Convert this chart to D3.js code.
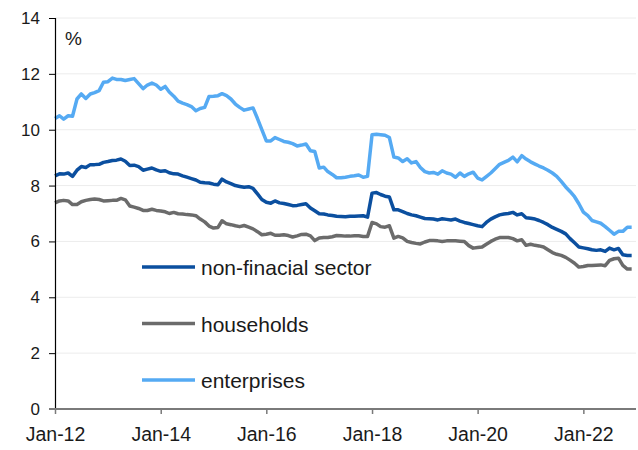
<!DOCTYPE html>
<html>
<head>
<meta charset="utf-8">
<script src="https://cdn.jsdelivr.net/npm/d3@7"></script>
<style>
  body { margin: 0; background: #fff; }
  .y-label { font-family: "Liberation Sans", Arial, sans-serif; font-size: 17px; fill: #1a1a1a; }
  .x-label { font-family: "Liberation Sans", Arial, sans-serif; font-size: 19.5px; fill: #1a1a1a; }
  .legend-text { font-family: "Liberation Sans", Arial, sans-serif; font-size: 21px; fill: #1a1a1a; }
  .unit { font-family: "Liberation Sans", Arial, sans-serif; font-size: 19px; fill: #1a1a1a; }
</style>
</head>
<body>
<div id="chart"></div>
<script>
// monthly, Jan-12 .. Dec-22
const firstMonth = "2012-01";

const nonFinancial = [
  8.35, 8.42, 8.41, 8.45, 8.33, 8.55, 8.68, 8.65, 8.75, 8.75, 8.76, 8.83,
  8.86, 8.90, 8.91, 8.95, 8.87, 8.72, 8.73, 8.68, 8.55, 8.59, 8.63, 8.56,
  8.51, 8.53, 8.46, 8.42, 8.41, 8.35, 8.30, 8.25, 8.20, 8.12, 8.10, 8.09,
  8.05, 8.03, 8.23, 8.13, 8.07, 8.00, 7.97, 7.94, 7.96, 7.90, 7.70, 7.50,
  7.40, 7.37, 7.45, 7.38, 7.36, 7.32, 7.28, 7.29, 7.32, 7.35, 7.20, 7.10,
  6.99, 6.98, 6.95, 6.93, 6.90, 6.89, 6.88, 6.90, 6.90, 6.91, 6.92, 6.87,
  7.73, 7.75, 7.68, 7.62, 7.59, 7.13, 7.13, 7.07, 7.00, 6.95, 6.92, 6.87,
  6.82, 6.81, 6.80, 6.77, 6.81, 6.79, 6.77, 6.80, 6.73, 6.68, 6.64, 6.60,
  6.56, 6.53, 6.68, 6.80, 6.88, 6.95, 6.98, 7.00, 7.04, 6.95, 6.99, 6.85,
  6.83, 6.80, 6.75, 6.68, 6.60, 6.50, 6.43, 6.36, 6.27, 6.10, 5.95, 5.80,
  5.77, 5.74, 5.70, 5.68, 5.70, 5.64, 5.76, 5.70, 5.75, 5.52, 5.50, 5.50
];

const households = [
  7.38, 7.45, 7.47, 7.45, 7.32, 7.32, 7.42, 7.47, 7.50, 7.52, 7.50, 7.45,
  7.46, 7.47, 7.47, 7.54, 7.49, 7.27, 7.23, 7.18, 7.11, 7.11, 7.15, 7.11,
  7.09, 7.06, 7.00, 7.04, 6.99, 6.98, 6.96, 6.95, 6.92, 6.80, 6.70, 6.55,
  6.48, 6.50, 6.74, 6.63, 6.60, 6.56, 6.53, 6.57, 6.51, 6.45, 6.35, 6.24,
  6.26, 6.29, 6.22, 6.22, 6.24, 6.21, 6.16, 6.20, 6.25, 6.26, 6.20, 6.03,
  6.12, 6.14, 6.14, 6.17, 6.21, 6.20, 6.19, 6.19, 6.20, 6.20, 6.18, 6.18,
  6.68, 6.63, 6.53, 6.51, 6.56, 6.12, 6.18, 6.13, 6.00, 5.96, 5.93, 5.91,
  5.98, 6.03, 6.03, 6.02, 6.00, 6.02, 6.02, 6.02, 6.01, 6.00, 5.85, 5.76,
  5.78, 5.80, 5.90, 6.00, 6.08, 6.14, 6.14, 6.14, 6.10, 6.02, 6.06, 5.86,
  5.90, 5.86, 5.84, 5.80, 5.70, 5.60, 5.54, 5.50, 5.43, 5.33, 5.22, 5.08,
  5.10, 5.14, 5.14, 5.15, 5.16, 5.13, 5.32, 5.38, 5.40, 5.14, 5.01, 5.01
];

const enterprises = [
  10.40, 10.50, 10.38, 10.50, 10.48, 11.10, 11.28, 11.12, 11.28, 11.33, 11.40, 11.70,
  11.72, 11.85, 11.80, 11.80, 11.76, 11.80, 11.83, 11.65, 11.47, 11.60, 11.67, 11.60,
  11.45, 11.55, 11.35, 11.20, 11.02, 10.95, 10.90, 10.83, 10.68, 10.76, 10.80, 11.19,
  11.20, 11.22, 11.29, 11.22, 11.10, 10.92, 10.80, 10.70, 10.74, 10.78, 10.40, 10.00,
  9.60, 9.60, 9.72, 9.65, 9.58, 9.55, 9.50, 9.42, 9.45, 9.49, 9.25, 9.22,
  8.63, 8.66, 8.50, 8.40, 8.28, 8.28, 8.30, 8.33, 8.35, 8.38, 8.30, 8.33,
  9.82, 9.84, 9.82, 9.80, 9.72, 9.02, 8.99, 8.86, 8.96, 8.81, 8.86, 8.65,
  8.50, 8.45, 8.47, 8.41, 8.53, 8.45, 8.41, 8.30, 8.45, 8.33, 8.42, 8.48,
  8.27, 8.20, 8.32, 8.45, 8.60, 8.76, 8.83, 8.90, 9.02, 8.85, 9.07, 8.95,
  8.85, 8.77, 8.70, 8.63, 8.55, 8.45, 8.33, 8.15, 7.95, 7.79, 7.60, 7.35,
  7.05, 6.92, 6.75, 6.70, 6.65, 6.53, 6.40, 6.26, 6.36, 6.36, 6.51, 6.51
];

const seriesNames = ["non-finacial sector", "households", "enterprises"];
const seriesColors = ["#0b4f9f", "#6b6b6b", "#55aaf3"];
const yTickValues = [0, 2, 4, 6, 8, 10, 12, 14];
const xTickMonths = ["2012-01", "2014-01", "2016-01", "2018-01", "2020-01", "2022-01"];
const xTickLabels = ["Jan-12", "Jan-14", "Jan-16", "Jan-18", "Jan-20", "Jan-22"];
const unitLabel = "%";

class InterestRateChart {
  constructor(el) {
    this.el = el;
    this._setup();
    this._scaffold();
    this._render();
  }

  _setup() {
    this.width = 638;
    this.height = 450;
    this.margin = { top: 18, right: 2, bottom: 41, left: 55 };
    this.lineWidth = 3.5;

    const parse = d3.timeParse("%Y-%m");
    this.months = d3.range(enterprises.length).map((i) =>
      d3.timeMonth.offset(parse(firstMonth), i)
    );
    this.xTicks = xTickMonths.map(parse);

    this.x = d3
      .scaleTime()
      .domain([parse(firstMonth), new Date(2022, 11, 31)])
      .range([this.margin.left, this.width - this.margin.right]);

    this.y = d3
      .scaleLinear()
      .domain([0, 14])
      .range([this.height - this.margin.bottom, this.margin.top]);

    this.series = [nonFinancial, households, enterprises].map((values, i) => ({
      name: seriesNames[i],
      color: seriesColors[i],
      values: values.map((v, j) => ({ date: this.months[j], value: v })),
    }));

    this.line = d3
      .line()
      .x((d) => this.x(d.date))
      .y((d) => this.y(d.value));
  }

  _scaffold() {
    d3.select(this.el).selectAll("*").remove();

    this.svg = d3
      .select(this.el)
      .append("svg")
      .attr("width", this.width)
      .attr("height", this.height);

    this.gridG = this.svg.append("g").attr("class", "grid");
    this.linesG = this.svg.append("g").attr("class", "lines");
    this.axisG = this.svg.append("g").attr("class", "axes");
    this.legendG = this.svg.append("g").attr("class", "legend");
  }

  _render() {
    const { x, y, margin, width, height } = this;
    const x0 = margin.left;
    const y0 = height - margin.bottom;

    // gridlines
    this.gridG
      .selectAll("line")
      .data(yTickValues.filter((d) => d > 0))
      .join("line")
      .attr("x1", x0)
      .attr("x2", width - margin.right)
      .attr("y1", (d) => y(d))
      .attr("y2", (d) => y(d))
      .attr("stroke", "#ececec")
      .attr("stroke-width", 1);

    // series lines, enterprises drawn first
    this.linesG
      .selectAll("path")
      .data(this.series.slice().reverse())
      .join("path")
      .attr("fill", "none")
      .attr("stroke", (d) => d.color)
      .attr("stroke-width", this.lineWidth)
      .attr("stroke-linejoin", "round")
      .attr("d", (d) => this.line(d.values));

    // y axis
    const yAxis = this.axisG
      .append("g")
      .attr("transform", `translate(${x0},0)`)
      .call(
        d3
          .axisLeft(y)
          .tickValues(yTickValues)
          .tickSize(6)
          .tickPadding(9)
          .tickFormat(d3.format("d"))
      );
    yAxis.select(".domain").attr("stroke", "#000").attr("stroke-width", 1.2);
    yAxis.selectAll(".tick line").attr("stroke", "#000");
    yAxis
      .selectAll(".tick text")
      .attr("class", "y-label")
      .attr("font-family", null)
      .attr("font-size", null)
      .attr("fill", null);

    // x axis
    const xAxis = this.axisG
      .append("g")
      .attr("transform", `translate(0,${y0})`)
      .call(
        d3
          .axisBottom(x)
          .tickValues(this.xTicks)
          .tickSize(5)
          .tickSizeOuter(0)
          .tickPadding(13)
          .tickFormat((d, i) => xTickLabels[i])
      );
    xAxis
      .select(".domain")
      .attr("stroke", "#7a7a7a")
      .attr("stroke-width", 2)
      .attr("d", `M${x0 - 6},0H${width - margin.right}`);
    xAxis.selectAll(".tick line").attr("stroke", "#7a7a7a").attr("stroke-width", 1.5);
    xAxis
      .selectAll(".tick text")
      .attr("class", "x-label")
      .attr("font-family", null)
      .attr("font-size", null)
      .attr("fill", null);

    // unit label
    this.axisG
      .append("text")
      .attr("class", "unit")
      .attr("x", x0 + 10)
      .attr("y", margin.top + 27)
      .text(unitLabel);

    // legend
    const item = this.legendG
      .selectAll("g")
      .data(this.series)
      .join("g")
      .attr("transform", (d, i) => `translate(142,${267 + i * 56.5})`);
    item
      .append("line")
      .attr("x1", 0)
      .attr("x2", 53)
      .attr("stroke", (d) => d.color)
      .attr("stroke-width", this.lineWidth);
    item
      .append("text")
      .attr("class", "legend-text")
      .attr("x", 59)
      .attr("y", 8)
      .text((d) => d.name);
  }
}

new InterestRateChart(document.getElementById("chart"));
</script>
</body>
</html>
